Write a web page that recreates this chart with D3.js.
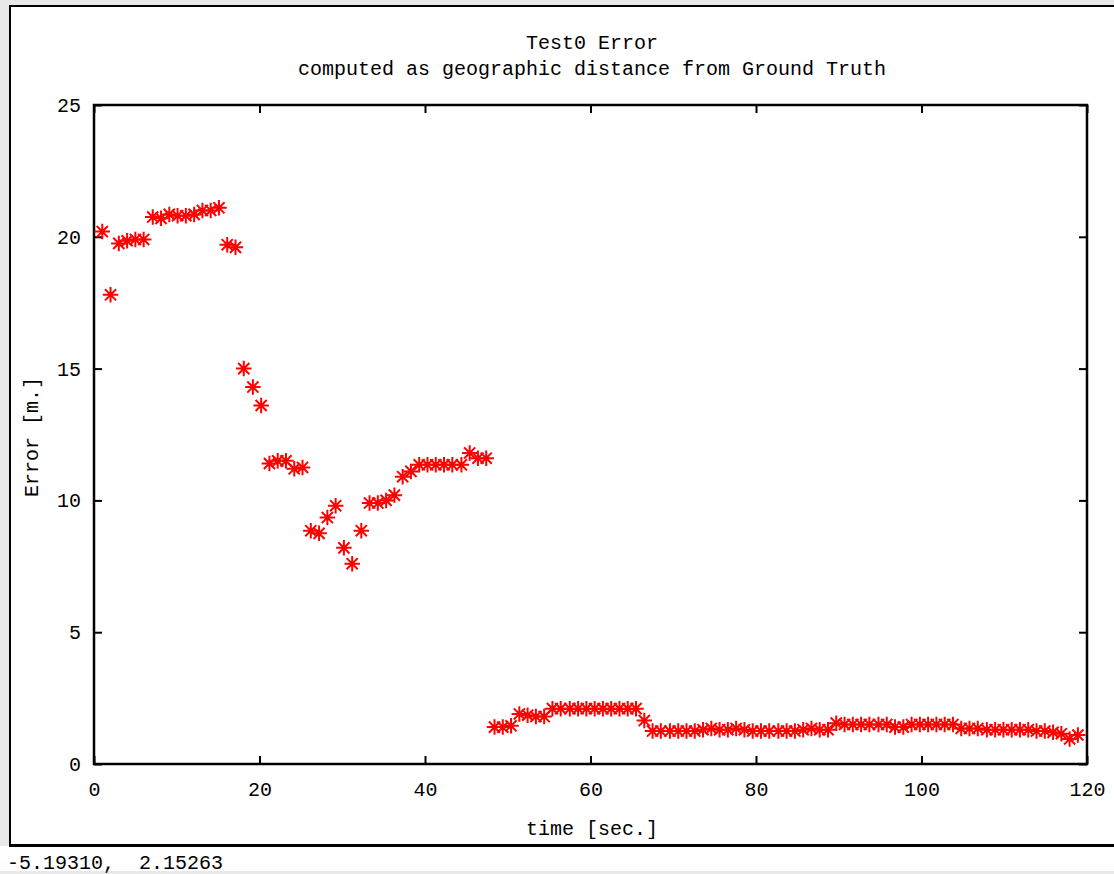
<!DOCTYPE html>
<html>
<head>
<meta charset="utf-8">
<script src="https://cdn.jsdelivr.net/npm/d3@7"></script>
<style>
  html, body { margin: 0; padding: 0; background: #ffffff; }
  svg text { font-family: "Liberation Mono", "DejaVu Sans Mono", monospace; fill: #000; }
</style>
</head>
<body>
<svg id="chart" width="1114" height="874"></svg>
<script>
// ---- data ----
const times = [
  1.0,2.0,3.0,4.0,5.0,6.0,7.1,8.1,9.1,10.1,11.1,12.1,13.1,14.1,15.1,16.1,17.1,18.1,19.2,20.2,
  21.2,22.2,23.2,24.2,25.2,26.2,27.2,28.2,29.2,30.2,31.2,32.3,33.3,34.3,35.3,36.3,37.3,38.3,39.3,40.3,
  41.3,42.3,43.3,44.4,45.4,46.4,47.4,48.4,49.4,50.4,51.4,52.4,53.4,54.4,55.4,56.4,57.5,58.5,59.5,60.5,
  61.5,62.5,63.5,64.5,65.5,66.5,67.5,68.5,69.6,70.6,71.6,72.6,73.6,74.6,75.6,76.6,77.6,78.6,79.6,80.6,
  81.6,82.7,83.7,84.7,85.7,86.7,87.7,88.7,89.7,90.7,91.7,92.7,93.7,94.8,95.8,96.8,97.8,98.8,99.8,100.8,
  101.8,102.8,103.8,104.8,105.8,106.8,107.9,108.9,109.9,110.9,111.9,112.9,113.9,114.9,115.9,116.9,117.9,118.9
];
const errors = [
  20.2,17.8,19.75,19.85,19.9,19.9,20.75,20.7,20.85,20.8,20.8,20.85,21.0,21.0,21.1,19.7,19.6,15.0,14.3,13.6,
  11.4,11.5,11.5,11.2,11.25,8.85,8.75,9.35,9.8,8.2,7.6,8.85,9.9,9.9,10.0,10.2,10.9,11.1,11.35,11.35,
  11.35,11.35,11.35,11.35,11.8,11.6,11.6,1.4,1.4,1.45,1.9,1.85,1.8,1.8,2.1,2.1,2.1,2.1,2.1,2.1,
  2.1,2.1,2.1,2.1,2.1,1.65,1.25,1.25,1.25,1.25,1.25,1.25,1.3,1.35,1.3,1.3,1.35,1.3,1.25,1.25,
  1.25,1.25,1.25,1.25,1.3,1.35,1.3,1.3,1.55,1.5,1.5,1.5,1.5,1.5,1.5,1.4,1.4,1.5,1.5,1.5,
  1.5,1.5,1.5,1.35,1.35,1.35,1.3,1.3,1.3,1.3,1.3,1.3,1.25,1.25,1.2,1.15,0.95,1.1
];
const xTicks = [0, 20, 40, 60, 80, 100, 120];
const yTicks = [0, 5, 10, 15, 20, 25];
const titleText = "Test0 Error";
const subtitleText = "computed as geographic distance from Ground Truth";
const xLabel = "time [sec.]";
const yLabel = "Error [m.]";
const statusText = "-5.19310,  2.15263";

// ---- layout ----
const svg = d3.select("#chart");
const pLeft = 94, pRight = 1087, pTop = 105, pBottom = 764;
const x = d3.scaleLinear().domain([0, 120]).range([pLeft, pRight]);
const y = d3.scaleLinear().domain([0, 25]).range([pBottom, pTop]);
const FS = 20;

// window chrome
svg.append("rect").attr("x", 0).attr("y", 0).attr("width", 1114).attr("height", 874).attr("fill", "#ffffff");
svg.append("rect").attr("x", 0).attr("y", 0).attr("width", 1114).attr("height", 5).attr("fill", "#e8e8e8");
svg.append("rect").attr("x", 0).attr("y", 0).attr("width", 9).attr("height", 846).attr("fill", "#e8e8e8");
svg.append("line").attr("x1", 9).attr("x2", 1114).attr("y1", 6).attr("y2", 6).attr("stroke", "#000").attr("stroke-width", 2);
svg.append("line").attr("x1", 10).attr("x2", 10).attr("y1", 5).attr("y2", 847).attr("stroke", "#000").attr("stroke-width", 2);
svg.append("line").attr("x1", 9).attr("x2", 1114).attr("y1", 845.5).attr("y2", 845.5).attr("stroke", "#000").attr("stroke-width", 3);
svg.append("rect").attr("x", 0).attr("y", 871).attr("width", 1114).attr("height", 3).attr("fill", "#e8e8e8");

// titles
svg.append("text").attr("x", 592).attr("y", 49).attr("text-anchor", "middle").attr("font-size", FS).text(titleText);
svg.append("text").attr("x", 592).attr("y", 75).attr("text-anchor", "middle").attr("font-size", FS).text(subtitleText);

// axes (ticks inward on all sides)
const tickLen = 8;
svg.append("g").attr("transform", `translate(0,${pBottom})`)
  .call(d3.axisBottom(x).tickValues(xTicks).tickSize(-tickLen).tickPadding(18).tickFormat(d3.format("d")))
  .call(g => g.select(".domain").remove())
  .call(g => g.selectAll("line").attr("stroke-width", 2))
  .call(g => g.selectAll("text").attr("font-size", FS).attr("font-family", "Liberation Mono"));
svg.append("g").attr("transform", `translate(0,${pTop})`)
  .call(d3.axisTop(x).tickValues(xTicks).tickSize(-tickLen).tickFormat(""))
  .call(g => g.select(".domain").remove())
  .call(g => g.selectAll("line").attr("stroke-width", 2));
svg.append("g").attr("transform", `translate(${pLeft},0)`)
  .call(d3.axisLeft(y).tickValues(yTicks).tickSize(-tickLen).tickPadding(13).tickFormat(d3.format("d")))
  .call(g => g.select(".domain").remove())
  .call(g => g.selectAll("line").attr("stroke-width", 2))
  .call(g => g.selectAll("text").attr("font-size", FS).attr("font-family", "Liberation Mono"));
svg.append("g").attr("transform", `translate(${pRight},0)`)
  .call(d3.axisRight(y).tickValues(yTicks).tickSize(-tickLen).tickFormat(""))
  .call(g => g.select(".domain").remove())
  .call(g => g.selectAll("line").attr("stroke-width", 2));

// frame
svg.append("rect").attr("x", pLeft).attr("y", pTop).attr("width", pRight - pLeft).attr("height", pBottom - pTop)
  .attr("fill", "none").attr("stroke", "#000").attr("stroke-width", 2.5);

// axis labels
svg.append("text").attr("x", 592).attr("y", 835).attr("text-anchor", "middle").attr("font-size", FS).text(xLabel);
svg.append("text").attr("transform", "translate(38,437) rotate(-90)").attr("text-anchor", "middle").attr("font-size", FS).text(yLabel);

// status line
svg.append("text").attr("x", 7).attr("y", 869).attr("font-size", FS)
  .style("white-space", "pre").text(statusText);

// gnuplot-style star marker (+ overlaid with x)
const star = {
  draw(ctx, size) {
    const r = Math.sqrt(size) / 2;
    const d = r * 0.72;
    ctx.moveTo(-r, 0); ctx.lineTo(r, 0);
    ctx.moveTo(0, -r); ctx.lineTo(0, r);
    ctx.moveTo(-d, -d); ctx.lineTo(d, d);
    ctx.moveTo(-d, d); ctx.lineTo(d, -d);
  }
};
const pts = times.map((t, i) => ({ t, v: errors[i] }));
svg.append("g").selectAll("path").data(pts).join("path")
  .attr("transform", d => `translate(${x(d.t)},${y(d.v)})`)
  .attr("d", d3.symbol().type(star).size(240))
  .attr("fill", "none").attr("stroke", "#ff0000").attr("stroke-width", 2);
</script>
</body>
</html>
